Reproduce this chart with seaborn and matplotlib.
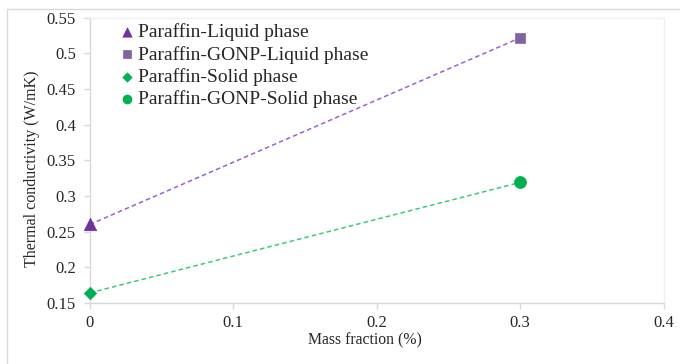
import pandas as pd
import matplotlib.pyplot as plt
import seaborn as sns
from matplotlib.patches import Rectangle

# Data
series_names = ["Paraffin-Liquid phase", "Paraffin-GONP-Liquid phase",
                "Paraffin-Solid phase", "Paraffin-GONP-Solid phase"]
mass_fraction = [0.0, 0.3, 0.0, 0.3]
conductivity = [0.26, 0.522, 0.164, 0.319]
phase = ["Liquid", "Liquid", "Solid", "Solid"]

x_ticks = [0, 0.1, 0.2, 0.3, 0.4]
x_tick_labels = ["0", "0.1", "0.2", "0.3", "0.4"]
y_ticks = [0.15, 0.2, 0.25, 0.3, 0.35, 0.4, 0.45, 0.5, 0.55]
y_tick_labels = ["0.15", "0.2", "0.25", "0.3", "0.35", "0.4", "0.45", "0.5", "0.55"]

df = pd.DataFrame({"series": series_names, "x": mass_fraction,
                   "y": conductivity, "phase": phase})

sns.set_theme(style="white")
plt.rcParams['font.family'] = ['Liberation Serif', 'DejaVu Serif']

marker_colors = ["#7030A0", "#8064A2", "#00B050", "#00B050"]
markers = ["^", "s", "D", "o"]
sizes = [80, 60, 40, 75]
line_colors = {"Liquid": "#9A62D0", "Solid": "#3CCB7C"}

fig = plt.figure(figsize=(6.8, 3.64), dpi=100)
ax = fig.add_axes([0.132, 0.168, 0.844, 0.783])

# outer chart border
fig.patches.append(Rectangle((7 / 680, -0.1), 2, 1 - 9 / 364 + 0.1,
                             transform=fig.transFigure, fill=False,
                             edgecolor="#D9D9D9", linewidth=1))

# dashed connecting lines
for ph, sub in df.groupby("phase"):
    sns.lineplot(data=sub, x="x", y="y", ax=ax, color=line_colors[ph],
                 linestyle=(0, (3, 2)), linewidth=1.1, legend=False)

# markers
for i, row in df.iterrows():
    sns.scatterplot(x=[row["x"]], y=[row["y"]], ax=ax, marker=markers[i],
                    s=sizes[i], color=marker_colors[i], edgecolor=marker_colors[i],
                    linewidth=0.5, label=row["series"], zorder=5, clip_on=False)

ax.set_xlim(0, 0.4)
ax.set_ylim(0.15, 0.55)
ax.set_xticks(x_ticks)
ax.set_xticklabels(x_tick_labels)
ax.set_yticks(y_ticks)
ax.set_yticklabels(y_tick_labels)
ax.tick_params(axis="both", labelsize=12, colors="#D9D9D9", labelcolor="#262626",
               length=4, width=1, direction="out", bottom=True, left=True)
ax.tick_params(axis="x", pad=5)
ax.tick_params(axis="y", pad=6)
for side in ["left", "bottom"]:
    ax.spines[side].set_color("#D9D9D9")
    ax.spines[side].set_linewidth(1)
for side in ["top", "right"]:
    ax.spines[side].set_color("#F0F0F0")
    ax.spines[side].set_linewidth(1)

ax.set_xlabel("Mass fraction (%)", fontsize=11.3, color="#262626", labelpad=2)
ax.xaxis.set_label_coords(0.479, -0.105)
ax.set_ylabel("Thermal conductivity (W/mK)", fontsize=11.5, color="#262626")
ax.yaxis.set_label_coords(-0.087, 0.47)

leg = ax.legend(loc="upper left", frameon=False, fontsize=14,
                handletextpad=0.15, handlelength=0.8, labelspacing=0.22,
                borderpad=0, borderaxespad=0, markerscale=0.75,
                bbox_to_anchor=(0.051, 0.98))
for t in leg.get_texts():
    t.set_color("#262626")

fig.savefig("out.png", dpi=100)
